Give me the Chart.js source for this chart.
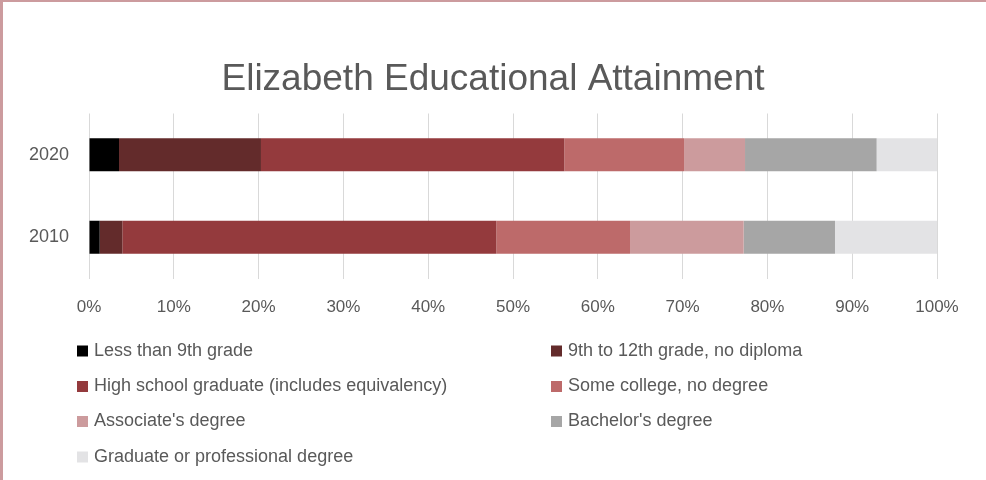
<!DOCTYPE html>
<html>
<head>
<meta charset="utf-8">
<script src="https://cdn.jsdelivr.net/npm/chart.js@4"></script>
<style>
    body { margin: 0; background: #fff; }
    #wrap { position: relative; width: 986px; height: 480px; }
    #wrap::after {
        content: '';
        position: absolute;
        left: 0; top: 0; right: 0; bottom: 0;
        border-left: 3px solid #cc9b9e;
        border-top: 2px solid #cc9b9e;
        pointer-events: none;
    }
</style>
</head>
<body>
<div id="wrap"><canvas id="chart" width="986" height="480"></canvas></div>
<script>
const years = ['2020', '2010'];
const seriesNames = [
    'Less than 9th grade',
    '9th to 12th grade, no diploma',
    'High school graduate (includes equivalency)',
    'Some college, no degree',
    "Associate's degree",
    "Bachelor's degree",
    'Graduate or professional degree'
];
const lessThan9th = [3.54, 1.26];
const grade9to12 = [16.74, 2.67];
const highSchool = [35.77, 44.10];
const someCollege = [14.12, 15.77];
const associate = [7.19, 13.40];
const bachelor = [15.52, 10.77];
const graduate = [7.12, 12.03];
const tickValues = [0, 10, 20, 30, 40, 50, 60, 70, 80, 90, 100];

const colors = ['#000000', '#632b2b', '#943a3d', '#bd6a6a', '#cc9b9d', '#a6a6a6', '#e3e3e5'];
const values = [lessThan9th, grade9to12, highSchool, someCollege, associate, bachelor, graduate];

const FONT = '"Liberation Sans", Arial, sans-serif';
const TEXT = '#595959';

// legend in two columns, like the original
const gridLegend = {
    id: 'gridLegend',
    afterDraw(chart) {
        const ctx = chart.ctx;
        const colX = [77, 551];
        const rowY = [351, 386.5, 421.5, 457];
        ctx.save();
        ctx.font = '18px ' + FONT;
        ctx.textBaseline = 'middle';
        ctx.textAlign = 'left';
        chart.data.datasets.forEach((ds, i) => {
            const x = colX[i % 2];
            const y = rowY[Math.floor(i / 2)];
            ctx.fillStyle = ds.backgroundColor;
            ctx.fillRect(x, y - 5.5, 11, 11);
            ctx.fillStyle = TEXT;
            ctx.fillText(ds.label, x + 17, y);
        });
        ctx.restore();
    }
};

const data = {
    labels: years,
    datasets: seriesNames.map((name, i) => ({
        label: name,
        data: values[i],
        backgroundColor: colors[i],
        borderWidth: 0,
        categoryPercentage: 0.5,
        barPercentage: 0.8
    }))
};

const options = {
    indexAxis: 'y',
    responsive: false,
    animation: false,
    layout: { padding: { left: 0, right: 0, top: 0, bottom: 141.5 } },
    plugins: {
        legend: { display: false },
        tooltip: { enabled: false },
        title: {
            display: true,
            text: 'Elizabeth Educational Attainment',
            color: TEXT,
            font: { family: FONT, size: 37, weight: 'normal' },
            padding: { top: 57.8, bottom: 11.3 }
        }
    },
    scales: {
        x: {
            stacked: true,
            min: 0,
            max: 100,
            afterFit: scale => { scale.height = 60; },
            afterBuildTicks: scale => { scale.ticks = tickValues.map(v => ({ value: v })); },
            grid: { color: '#d9d9d9', drawTicks: false },
            border: { display: false },
            ticks: {
                color: TEXT,
                padding: 19,
                font: { family: FONT, size: 17 },
                callback: v => v + '%'
            }
        },
        y: {
            stacked: true,
            afterFit: scale => { scale.width = 89; },
            grid: { display: false, drawTicks: false },
            border: { display: false },
            ticks: {
                color: TEXT,
                padding: 20,
                font: { family: FONT, size: 18 }
            }
        },
        // empty right margin so the title centres on the whole picture
        yRight: {
            type: 'category',
            position: 'right',
            afterFit: scale => { scale.width = 49; },
            grid: { display: false, drawTicks: false },
            border: { display: false },
            ticks: { display: false }
        }
    }
};

new Chart(document.querySelector('#chart'), { type: 'bar', data, options, plugins: [gridLegend] });
</script>
</body>
</html>
